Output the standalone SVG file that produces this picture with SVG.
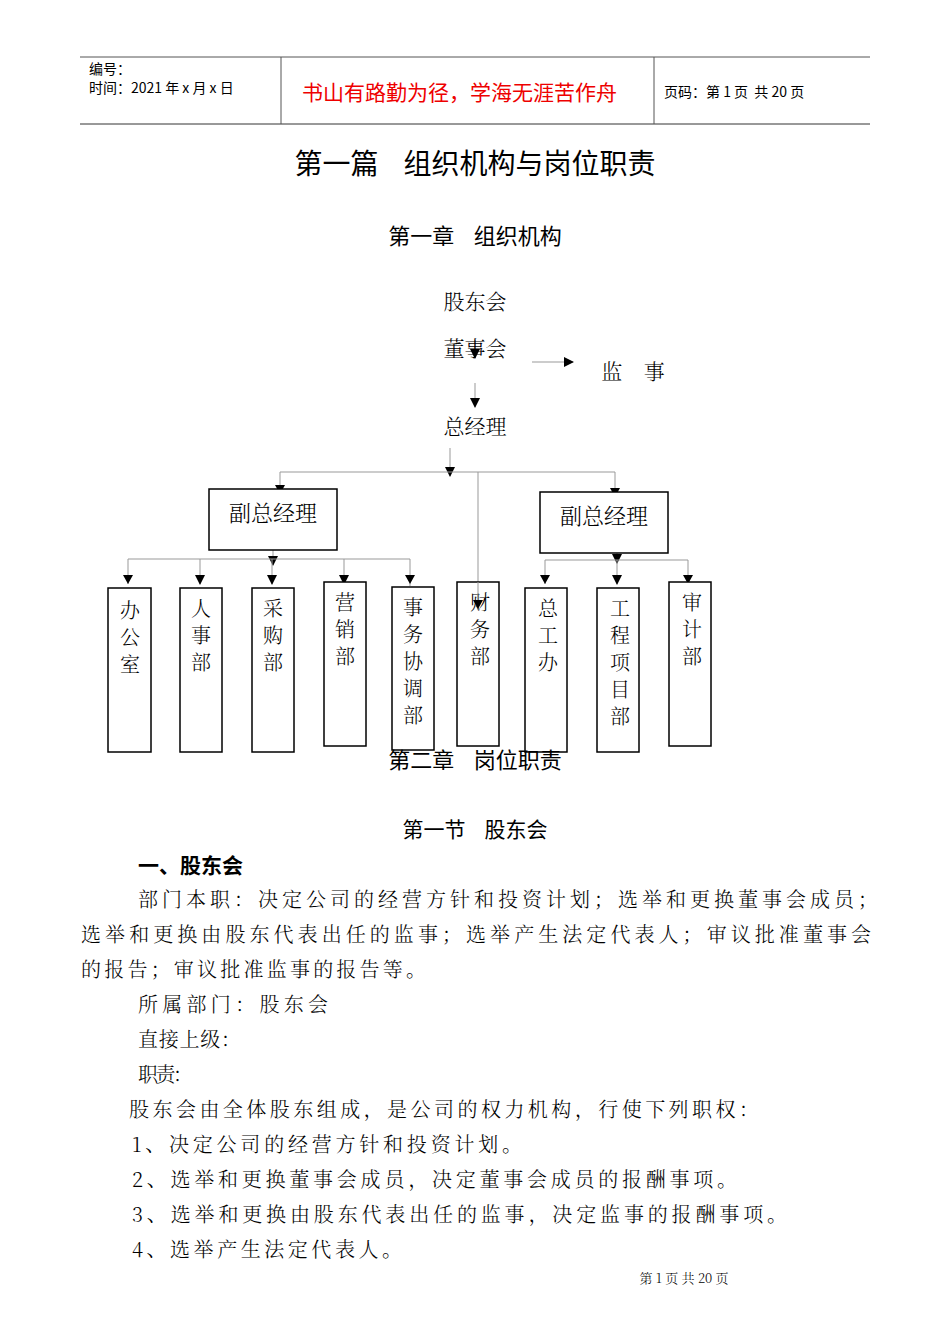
<svg xmlns="http://www.w3.org/2000/svg" width="950" height="1344" viewBox="0 0 950 1344">
<style>
text{white-space:pre}
.t{font-family:"Noto Sans CJK SC","Liberation Sans",sans-serif;fill:#000}
.s{font-family:"Noto Serif CJK SC","Noto Sans CJK SC",serif;fill:#000;font-weight:300}
.v{font-family:"Noto Serif CJK SC","Noto Sans CJK SC",serif;fill:#000;font-weight:300;font-size:20px;text-anchor:middle}
.b{fill:#fff;stroke:#000;stroke-width:1.5}
.c{stroke:#999;stroke-width:1;fill:none}
</style>
<defs>
<marker id="r" markerWidth="10" markerHeight="10" refX="9" refY="5" orient="auto" markerUnits="userSpaceOnUse" viewBox="0 0 10 10"><path d="M0,0L10,5L0,10Z" fill="#000"/></marker></defs>
<g id="header">
<line x1="80" y1="57" x2="870" y2="57" stroke="#555"/>
<line x1="80" y1="124" x2="870" y2="124" stroke="#333"/>
<line x1="281" y1="57" x2="281" y2="124" stroke="#555"/>
<line x1="654" y1="57" x2="654" y2="124" stroke="#555"/>
<text class="t" x="89" y="74" font-size="14">编号：</text>
<text class="t" x="89" y="93" font-size="14">时间：2021 年 x 月 x 日</text>
<text class="t" x="302" y="100" font-size="21" style="fill:#e00">书山有路勤为径，学海无涯苦作舟</text>
<text class="t" x="664" y="97" font-size="14">页码：第 1 页  共 20 页</text>
</g>
<text class="t" x="475" y="174" font-size="28" text-anchor="middle">第一篇    组织机构与岗位职责</text>
<text class="t" x="475" y="244" font-size="22" text-anchor="middle">第一章    组织机构</text>
<g id="connectors">
<line class="c" x1="475" y1="340" x2="475" y2="358" marker-end="url(#r)"/>
<line class="c" x1="475" y1="383" x2="475" y2="407" marker-end="url(#r)"/>
<line class="c" x1="532" y1="362" x2="573" y2="362" marker-end="url(#r)"/>
<line class="c" x1="450" y1="448" x2="450" y2="476" marker-end="url(#r)"/>
<polyline class="c" points="280,493 280,472 615,472 615,497"/>
<path d="M275,485L285,485L280,494Z M610,488L620,488L615,497Z"/>
<line class="c" x1="478" y1="472" x2="478" y2="618"/>
<line class="c" x1="273" y1="530" x2="273" y2="565" marker-end="url(#r)"/>
<polyline class="c" points="128,584 128,559 410,559 410,586"/>
<line class="c" x1="200" y1="559" x2="200" y2="584" marker-end="url(#r)"/>
<line class="c" x1="272" y1="559" x2="272" y2="584" marker-end="url(#r)"/>
<line class="c" x1="344" y1="559" x2="344" y2="584" marker-end="url(#r)"/>
<path d="M123,575L133,575L128,584Z M405,575L415,575L410,584Z"/>
<line class="c" x1="617" y1="530" x2="617" y2="563" marker-end="url(#r)"/>
<polyline class="c" points="545,584 545,560 688,560 688,584"/>
<line class="c" x1="617" y1="560" x2="617" y2="584" marker-end="url(#r)"/>
<path d="M540,575L550,575L545,584Z M683,575L693,575L688,584Z"/>
</g>
<g id="n-gd"><text class="s" x="475" y="309" font-size="21" text-anchor="middle">股东会</text></g>
<g id="n-dsh"><text class="s" x="475" y="356" font-size="21" text-anchor="middle">董事会</text></g>
<g id="n-js"><text class="s" x="633" y="379" font-size="21" text-anchor="middle">监    事</text></g>
<g id="n-zjl"><text class="s" x="475" y="434" font-size="21" text-anchor="middle">总经理</text></g>
<g id="n-fz1"><rect class="b" x="209" y="489" width="128" height="61"/><text class="s" x="273" y="521" font-size="22" text-anchor="middle">副总经理</text></g>
<g id="n-fz2"><rect class="b" x="540" y="492" width="128" height="61"/><text class="s" x="604" y="524" font-size="22" text-anchor="middle">副总经理</text></g>
<g id="n-bgs"><rect class="b" x="108" y="588" width="43" height="164"/><text class="v" x="130" y="618">办</text><text class="v" x="130" y="645">公</text><text class="v" x="130" y="672">室</text></g>
<g id="n-rsb"><rect class="b" x="180" y="588" width="42" height="164"/><text class="v" x="201" y="616">人</text><text class="v" x="201" y="643">事</text><text class="v" x="201" y="670">部</text></g>
<g id="n-cgb"><rect class="b" x="252" y="588" width="42" height="164"/><text class="v" x="273" y="616">采</text><text class="v" x="273" y="643">购</text><text class="v" x="273" y="670">部</text></g>
<g id="n-yxb"><rect class="b" x="324" y="582" width="42" height="164"/><text class="v" x="345" y="610">营</text><text class="v" x="345" y="637">销</text><text class="v" x="345" y="664">部</text></g>
<g id="n-swb"><rect class="b" x="392" y="587" width="42" height="163"/><text class="v" x="413" y="615">事</text><text class="v" x="413" y="642">务</text><text class="v" x="413" y="669">协</text><text class="v" x="413" y="696">调</text><text class="v" x="413" y="723">部</text></g>
<g id="n-cwb"><rect class="b" x="457" y="582" width="42" height="164"/><text class="v" x="480" y="610">财</text><text class="v" x="480" y="637">务</text><text class="v" x="480" y="664">部</text></g>
<g id="n-zgb"><rect class="b" x="525" y="588" width="42" height="164"/><text class="v" x="548" y="616">总</text><text class="v" x="548" y="643">工</text><text class="v" x="548" y="670">办</text></g>
<g id="n-gcb"><rect class="b" x="597" y="588" width="42" height="164"/><text class="v" x="620" y="616">工</text><text class="v" x="620" y="643">程</text><text class="v" x="620" y="670">项</text><text class="v" x="620" y="697">目</text><text class="v" x="620" y="724">部</text></g>
<g id="n-sjb"><rect class="b" x="669" y="582" width="42" height="164"/><text class="v" x="692" y="610">审</text><text class="v" x="692" y="637">计</text><text class="v" x="692" y="664">部</text></g>
<line x1="478" y1="582" x2="478" y2="610" stroke="#999"/><path d="M473,600L483,600L478,609Z"/>
<text class="t" x="475" y="768" font-size="22" text-anchor="middle">第二章    岗位职责</text>
<text class="t" x="475" y="837" font-size="21" text-anchor="middle">第一节    股东会</text>
<text class="t" x="138" y="873" font-size="21" font-weight="bold">一、股东会</text>
<text class="s" x="138" y="907" font-size="20" textLength="740" lengthAdjust="spacing">部门本职：决定公司的经营方针和投资计划；选举和更换董事会成员；</text>
<text class="s" x="81" y="942" font-size="20" textLength="790" lengthAdjust="spacing">选举和更换由股东代表出任的监事；选举产生法定代表人；审议批准董事会</text>
<text class="s" x="81" y="977" font-size="20" textLength="345" lengthAdjust="spacing">的报告；审议批准监事的报告等。</text>
<text class="s" x="138" y="1012" font-size="20" textLength="190" lengthAdjust="spacing">所属部门：股东会</text>
<text class="s" x="138" y="1047" font-size="20" textLength="103" lengthAdjust="spacing">直接上级：</text>
<text class="s" x="138" y="1082" font-size="20" textLength="55" lengthAdjust="spacing">职责：</text>
<text class="s" x="129" y="1117" font-size="20" textLength="630" lengthAdjust="spacing">股东会由全体股东组成，是公司的权力机构，行使下列职权：</text>
<text class="s" x="132" y="1152" font-size="20" textLength="390" lengthAdjust="spacing">1、决定公司的经营方针和投资计划。</text>
<text class="s" x="132" y="1187" font-size="20" textLength="605" lengthAdjust="spacing">2、选举和更换董事会成员，决定董事会成员的报酬事项。</text>
<text class="s" x="132" y="1222" font-size="20" textLength="655" lengthAdjust="spacing">3、选举和更换由股东代表出任的监事，决定监事的报酬事项。</text>
<text class="s" x="132" y="1257" font-size="20" textLength="270" lengthAdjust="spacing">4、选举产生法定代表人。</text>
<text class="s" x="684" y="1283" font-size="13" text-anchor="middle">第 1 页 共 20 页</text>
</svg>
